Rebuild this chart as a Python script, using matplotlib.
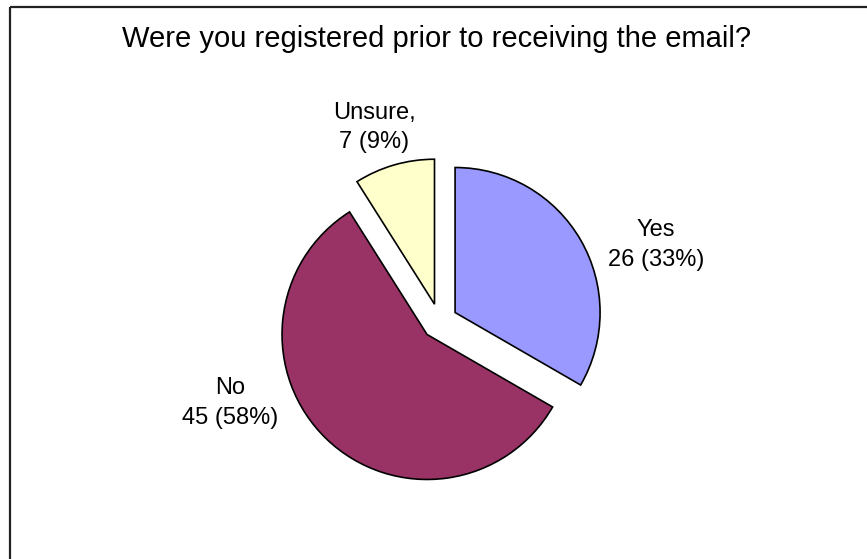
import matplotlib
matplotlib.use("Agg")
import matplotlib.pyplot as plt

plt.rcParams['font.family'] = ['Liberation Sans', 'DejaVu Sans']

# Survey responses
categories = ["Yes", "No", "Unsure"]
counts = [26, 45, 7]
label_texts = ["Yes\n26 (33%)", "No\n45 (58%)", "Unsure,\n7 (9%)"]
colors = ["#9999FF", "#993366", "#FFFFCC"]
title = "Were you registered prior to receiving the email?"

W, H = 867, 559
fig = plt.figure(figsize=(W / 100, H / 100), dpi=100)
ax = fig.add_axes([0, 0, 1, 1])
ax.set_xlim(0, W)
ax.set_ylim(0, H)
ax.axis("off")

def py(y):
    # pixel row (from top) to data y
    return H - y

cx, cy, r = 439.5, py(321.5), 145
explode_frac = 0.124
wedges, _ = ax.pie(counts, colors=colors, startangle=90, counterclock=False,
                   explode=[explode_frac * r] * len(counts), center=(cx, cy), radius=r,
                   wedgeprops=dict(edgecolor="black", linewidth=1.2))
ax.set_xlim(0, W)
ax.set_ylim(0, H)

label_pos = [(656, 245), (230, 403), (374, 127.5)]
for txt, (lx, ly) in zip(label_texts, label_pos):
    ax.text(lx, py(ly), txt, ha="center", va="center", fontsize=17,
            linespacing=1.44, color="black")

ax.text(437, py(39), title, ha="center", va="center", fontsize=21, color="black")

# chart area frame (top and left edges)
ax.plot([10, 10], [py(559), py(6.5)], color="#222222", lw=1.6, solid_capstyle="butt")
ax.plot([10, W], [py(6.5), py(6.5)], color="#222222", lw=1.6, solid_capstyle="butt")

fig.savefig("out.png", dpi=100)
